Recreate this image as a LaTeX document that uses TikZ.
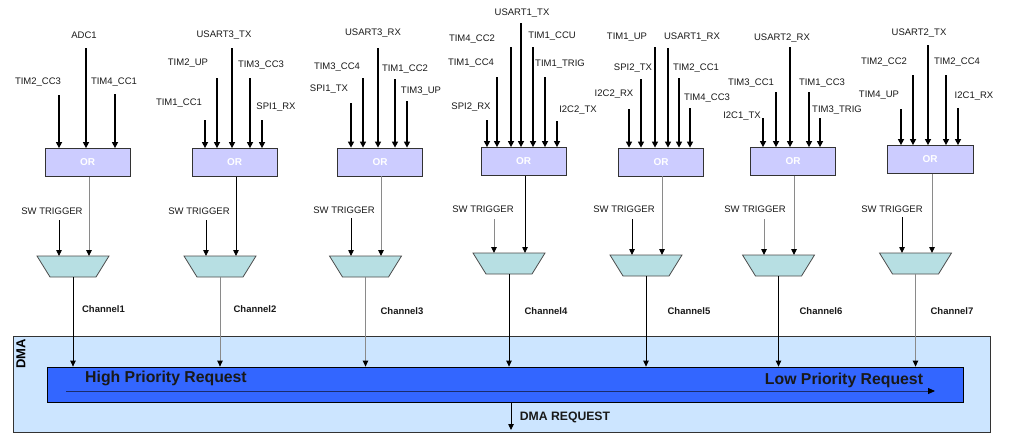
\documentclass[tikz,border=0pt]{standalone}
\usepackage{fontspec}
\setmainfont{Liberation Sans}
\usetikzlibrary{arrows.meta,calc}
\definecolor{orfill}{HTML}{CCCCFF}
\definecolor{muxfill}{HTML}{B7DFE3}
\definecolor{dmafill}{HTML}{CCE5FF}
\definecolor{barfill}{HTML}{3366FF}
\definecolor{navy}{HTML}{1A2B6B}
\definecolor{linegray}{HTML}{8A8A8A}
\newcommand{\sig}[7]{%
  \node[lbl] (#1) at (#3,#4) {#2};
  \coordinate (#1s) at (#5,#6);
  \draw[inarr] (#1s) -- (#1s |- #7.north);}
\begin{document}
\begin{tikzpicture}[x=1pt,y=-1pt,
  lbl/.style={font=\fontsize{9.5}{11}\selectfont, text=black!90, inner sep=0pt},
  chl/.style={font=\fontsize{9.5}{11}\selectfont\bfseries, text=black!90, inner sep=0pt},
  orbox/.style={draw=black!80, line width=0.8pt, fill=orfill, minimum width=85pt, minimum height=28pt, inner sep=0pt,
     font=\fontsize{10}{12}\selectfont\bfseries, text=white},
  muxs/.style={draw=black!70, line width=0.8pt, fill=muxfill},
  inarr/.style={line width=1.4pt, -{Triangle[width=6pt,length=6pt]}},
  thinb/.style={line width=0.8pt, draw=black, -{Triangle[width=5.5pt,length=6pt]}},
  thing/.style={line width=0.9pt, draw=linegray, -{Triangle[width=5.5pt,length=6pt,color=black]}}]
\useasboundingbox (0,0) rectangle (1014,437);

% DMA area
\node[draw=black!80, line width=0.8pt, fill=dmafill, minimum width=977pt, minimum height=96pt, inner sep=0pt] (dma) at (501.5,384) {};
\node[rotate=90, font=\fontsize{13}{15}\selectfont\bfseries, inner sep=0pt] (dmalbl) at (21,354) {DMA};
\node[draw=black, line width=0.8pt, fill=barfill, minimum width=916pt, minimum height=35pt, inner sep=0pt] (bar) at (505,384.5) {};
\node[font=\fontsize{15.8}{18}\selectfont\bfseries, text=black!90, inner sep=0pt] (hp) at (166,378) {High Priority Request};
\node[font=\fontsize{15.8}{18}\selectfont\bfseries, text=black!90, inner sep=0pt] (lp) at (844,380) {Low Priority Request};
\coordinate (ia) at (66,391);
\coordinate (ib) at (935,391);
\draw[line width=0.8pt, draw=navy, -{Triangle[width=6pt,length=7pt,color=black]}] (ia) -- (ib);
\coordinate (dreq) at (511,430);
\draw[thinb] (dreq |- bar.south) -- (dreq);
\node[font=\fontsize{12.2}{14}\selectfont\bfseries, text=black!90, inner sep=0pt] (dreqlbl) at (565,417) {DMA REQUEST};

% OR boxes
\node[orbox] (or1) at (87.5,162.5) {OR};
\node[orbox] (or2) at (234.5,162.5) {OR};
\node[orbox] (or3) at (380,162) {OR};
\node[orbox] (or4) at (523.5,161.5) {OR};
\node[orbox] (or5) at (661,162) {OR};
\node[orbox] (or6) at (793,161.5) {OR};
\node[orbox, minimum width=86pt] (or7) at (930,159.5) {OR};

% multiplexers (top centre coordinates)
\coordinate (t1) at (73,256);
\coordinate (t2) at (220,256);
\coordinate (t3) at (365.5,256);
\coordinate (t4) at (509,253);
\coordinate (t5) at (646,255);
\coordinate (t6) at (778.5,255);
\coordinate (t7) at (915.5,253);
\foreach \t in {t1,t2,t3,t4,t5,t6,t7}{
  \filldraw[muxs] (\t) ++(-36,0) -- ++(72,0) -- ++(-13,21) -- ++(-46,0) -- cycle;
  \coordinate (\t b) at ($(\t)+(0,21)$);
}

% inputs block 1
\sig{a1}{ADC1}{84}{35}{86}{48}{or1}
\sig{a2}{TIM2\_CC3}{38}{82}{59}{95}{or1}
\sig{a3}{TIM4\_CC1}{114}{82}{115}{94}{or1}
% block 2
\sig{b1}{USART3\_TX}{224}{35}{232}{48}{or2}
\sig{b2}{TIM2\_UP}{188}{63}{217}{78}{or2}
\sig{b3}{TIM3\_CC3}{261}{65}{250}{78}{or2}
\sig{b4}{TIM1\_CC1}{179}{103}{205}{120}{or2}
\sig{b5}{SPI1\_RX}{276}{107}{262}{120}{or2}
% block 3
\sig{c1}{USART3\_RX}{373}{33}{378}{48}{or3}
\sig{c2}{TIM3\_CC4}{337}{67}{363}{78}{or3}
\sig{c3}{TIM1\_CC2}{405}{69}{395}{79}{or3}
\sig{c4}{SPI1\_TX}{329}{89}{351}{103}{or3}
\sig{c5}{TIM3\_UP}{421}{91}{407}{101}{or3}
% block 4
\sig{d1}{USART1\_TX}{522}{13}{521}{23}{or4}
\sig{d2}{TIM4\_CC2}{472}{39}{511}{47}{or4}
\sig{d3}{TIM1\_CCU}{552}{36}{533}{47}{or4}
\sig{d4}{TIM1\_CC4}{471}{63}{497}{77}{or4}
\sig{d5}{TIM1\_TRIG}{560}{64}{545}{77}{or4}
\sig{d6}{SPI2\_RX}{471}{107}{487}{120}{or4}
\sig{d7}{I2C2\_TX}{578}{110}{557}{121}{or4}
% block 5
\sig{e1}{TIM1\_UP}{627}{37}{655}{47}{or5}
\sig{e2}{USART1\_RX}{692}{37}{668}{48}{or5}
\sig{e3}{SPI2\_TX}{633}{68}{641}{79}{or5}
\sig{e4}{TIM2\_CC1}{696}{68}{679}{78}{or5}
\sig{e5}{I2C2\_RX}{614}{94}{629}{109}{or5}
\sig{e6}{TIM4\_CC3}{707}{98}{690}{108}{or5}
% block 6
\sig{f1}{USART2\_RX}{782}{38}{790}{47}{or6}
\sig{f2}{TIM3\_CC1}{751}{83}{776}{92}{or6}
\sig{f3}{TIM1\_CC3}{822}{83}{809}{92}{or6}
\sig{f4}{I2C1\_TX}{742}{116}{763}{118}{or6}
\sig{f5}{TIM3\_TRIG}{837}{110}{820}{118}{or6}
% block 7
\sig{g1}{USART2\_TX}{919}{33}{928}{45}{or7}
\sig{g2}{TIM2\_CC2}{884}{62}{913}{75}{or7}
\sig{g3}{TIM2\_CC4}{957}{62}{946}{75}{or7}
\sig{g4}{TIM4\_UP}{879}{95}{901}{109}{or7}
\sig{g5}{I2C1\_RX}{974}{96}{958}{108}{or7}

% OR outputs to multiplexers
\coordinate (o1) at (89,0);  \draw[thing] (o1 |- or1.south) -- (o1 |- t1);
\coordinate (o2) at (236,0); \draw[thinb] (o2 |- or2.south) -- (o2 |- t2);
\coordinate (o3) at (381,0); \draw[thing] (o3 |- or3.south) -- (o3 |- t3);
\coordinate (o4) at (525,0); \draw[thinb] (o4 |- or4.south) -- (o4 |- t4);
\coordinate (o5) at (662,0); \draw[thing] (o5 |- or5.south) -- (o5 |- t5);
\coordinate (o6) at (794,0); \draw[thing] (o6 |- or6.south) -- (o6 |- t6);
\coordinate (o7) at (932,0); \draw[thing] (o7 |- or7.south) -- (o7 |- t7);

% SW triggers
\node[lbl] (sw1) at (52,211) {SW TRIGGER};
\node[lbl] (sw2) at (199,211) {SW TRIGGER};
\node[lbl] (sw3) at (344,210) {SW TRIGGER};
\node[lbl] (sw4) at (483,209) {SW TRIGGER};
\node[lbl] (sw5) at (624,209) {SW TRIGGER};
\node[lbl] (sw6) at (755,209) {SW TRIGGER};
\node[lbl] (sw7) at (892,209) {SW TRIGGER};
\coordinate (s1) at (59,220);  \draw[thinb] (s1) -- (s1 |- t1);
\coordinate (s2) at (206,220); \draw[thinb] (s2) -- (s2 |- t2);
\coordinate (s3) at (351,218); \draw[thinb] (s3) -- (s3 |- t3);
\coordinate (s4) at (494,219); \draw[thing] (s4) -- (s4 |- t4);
\coordinate (s5) at (632,219); \draw[thinb] (s5) -- (s5 |- t5);
\coordinate (s6) at (764,219); \draw[thing] (s6) -- (s6 |- t6);
\coordinate (s7) at (902,217); \draw[thinb] (s7) -- (s7 |- t7);

% channels
\draw[thinb] (t1b) -- (t1b |- bar.north);
\draw[thing] (t2b) -- (t2b |- bar.north);
\draw[thing] (t3b) -- (t3b |- bar.north);
\draw[thinb] (t4b) -- (t4b |- bar.north);
\draw[thinb] (t5b) -- (t5b |- bar.north);
\draw[thinb] (t6b) -- (t6b |- bar.north);
\draw[thing] (t7b) -- (t7b |- bar.north);
\node[chl] (ch1) at (103.5,309) {Channel1};
\node[chl] (ch2) at (255,309) {Channel2};
\node[chl] (ch3) at (402,311) {Channel3};
\node[chl] (ch4) at (546,311) {Channel4};
\node[chl] (ch5) at (689,311) {Channel5};
\node[chl] (ch6) at (821,311) {Channel6};
\node[chl] (ch7) at (952,311) {Channel7};
\end{tikzpicture}
\end{document}
